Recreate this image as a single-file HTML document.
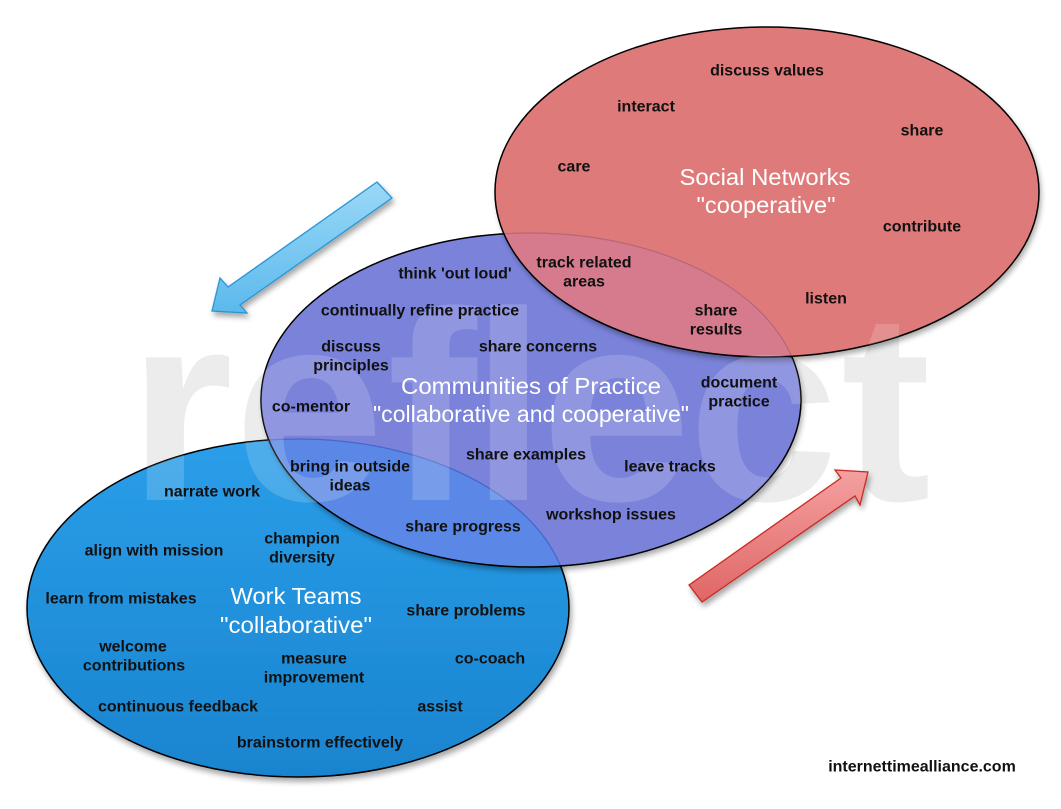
<!DOCTYPE html>
<html><head><meta charset="utf-8"><style>
html,body{margin:0;padding:0;background:#fff;}
svg{display:block;}
.l{font-family:"Liberation Sans",Arial,sans-serif;font-weight:bold;font-size:16px;fill:#111;text-anchor:middle;}
.t{font-family:"Liberation Sans",Arial,sans-serif;font-weight:normal;font-size:23.5px;fill:#fff;text-anchor:middle;}
.w{font-family:"Liberation Sans",Arial,sans-serif;font-weight:bold;font-size:270px;}
</style></head><body>
<svg width="1061" height="809" viewBox="0 0 1061 809" xmlns="http://www.w3.org/2000/svg">
<defs>
  <filter id="sh" x="-10%" y="-10%" width="125%" height="130%">
    <feGaussianBlur in="SourceAlpha" stdDeviation="3"/>
    <feOffset dx="2" dy="4" result="o"/>
    <feComponentTransfer><feFuncA type="linear" slope="0.35"/></feComponentTransfer>
    <feMerge><feMergeNode/><feMergeNode in="SourceGraphic"/></feMerge>
  </filter>
  <linearGradient id="wtg" x1="0" y1="0" x2="0" y2="1">
    <stop offset="0" stop-color="#2b9ee9"/>
    <stop offset="1" stop-color="#1984cf"/>
  </linearGradient>
  <linearGradient id="bag" x1="0" y1="0" x2="0" y2="1">
    <stop offset="0" stop-color="#9ad8f7"/>
    <stop offset="1" stop-color="#5cb9ec"/>
  </linearGradient>
  <linearGradient id="rag" x1="0" y1="0" x2="0" y2="1">
    <stop offset="0" stop-color="#f4a0a0"/>
    <stop offset="1" stop-color="#e06666"/>
  </linearGradient>
  <clipPath id="cCop"><ellipse cx="531" cy="400" rx="270" ry="167"/></clipPath>
  <clipPath id="cWt"><ellipse cx="298" cy="608" rx="271" ry="169"/></clipPath>
  <clipPath id="cSn"><ellipse cx="767" cy="192" rx="272" ry="165"/></clipPath>
  <clipPath id="cAll">
    <ellipse cx="531" cy="400" rx="270" ry="167"/>
    <ellipse cx="298" cy="608" rx="271" ry="169"/>
    <ellipse cx="767" cy="192" rx="272" ry="165"/>
  </clipPath>
</defs>

<rect width="1061" height="809" fill="#fff"/>

<!-- watermark (background) -->
<g class="w" fill="#ececec">
  <text x="128" y="500">r</text>
  <text x="234" y="500">e</text>
  <text x="387" y="500">f</text>
  <text x="471" y="500">l</text>
  <text x="541" y="500">e</text>
  <text x="688" y="500">c</text>
  <text x="841" y="500">t</text>
</g>

<!-- arrows -->
<polygon filter="url(#sh)" points="377,182 392,198 240,305 247,313 212,311 220,278 228,287" fill="url(#bag)" stroke="#2596d6" stroke-width="1.3" stroke-linejoin="miter"/>
<polygon filter="url(#sh)" points="689,585 841,478 835,470 868,472 860,505 855,496 702,602" fill="url(#rag)" stroke="#c92a22" stroke-width="1.3" stroke-linejoin="miter"/>

<!-- Work Teams -->
<ellipse filter="url(#sh)" cx="298" cy="608" rx="271" ry="169" fill="url(#wtg)" stroke="#000" stroke-width="1.5"/>

<!-- Communities of Practice -->
<ellipse filter="url(#sh)" cx="531" cy="400" rx="270" ry="167" fill="#7a82da"/>
<g clip-path="url(#cWt)">
  <ellipse cx="531" cy="400" rx="270" ry="167" fill="#5b88e6"/>
</g>
<g clip-path="url(#cCop)">
  <ellipse cx="298" cy="608" rx="271" ry="169" fill="none" stroke="#3f5fc4" stroke-width="1.3" opacity="0.8"/>
</g>
<ellipse cx="531" cy="400" rx="270" ry="167" fill="none" stroke="#000" stroke-width="1.5"/>

<!-- Social Networks -->
<ellipse filter="url(#sh)" cx="767" cy="192" rx="272" ry="165" fill="#df7a7a"/>
<g clip-path="url(#cCop)">
  <ellipse cx="767" cy="192" rx="272" ry="165" fill="#d67a8d"/>
</g>
<g clip-path="url(#cSn)">
  <ellipse cx="531" cy="400" rx="270" ry="167" fill="none" stroke="#b56878" stroke-width="1.2"/>
</g>
<ellipse cx="767" cy="192" rx="272" ry="165" fill="none" stroke="#000" stroke-width="1.5"/>

<!-- watermark overlay on ellipses -->
<g class="w" fill="#ffffff" opacity="0.17" clip-path="url(#cAll)">
  <text x="128" y="500">r</text>
  <text x="234" y="500">e</text>
  <text x="387" y="500">f</text>
  <text x="471" y="500">l</text>
  <text x="541" y="500">e</text>
  <text x="688" y="500">c</text>
  <text x="841" y="500">t</text>
</g>

<!-- titles -->
<text class="t" x="765" y="185" textLength="171" lengthAdjust="spacingAndGlyphs">Social Networks</text>
<text class="t" x="766" y="213" textLength="139" lengthAdjust="spacingAndGlyphs">"cooperative"</text>
<text class="t" x="531" y="394" textLength="260" lengthAdjust="spacingAndGlyphs">Communities of Practice</text>
<text class="t" x="531" y="422" textLength="316" lengthAdjust="spacingAndGlyphs">"collaborative and cooperative"</text>
<text class="t" x="296" y="604" textLength="131" lengthAdjust="spacingAndGlyphs">Work Teams</text>
<text class="t" x="296" y="633" textLength="152" lengthAdjust="spacingAndGlyphs">"collaborative"</text>

<!-- Social Networks labels -->
<text class="l" x="767" y="75.5">discuss values</text>
<text class="l" x="646" y="111.5">interact</text>
<text class="l" x="922" y="135.5">share</text>
<text class="l" x="574" y="171.5">care</text>
<text class="l" x="922" y="231.5">contribute</text>
<text class="l" x="584" y="267.5">track related</text>
<text class="l" x="584" y="286.5">areas</text>
<text class="l" x="826" y="303.5">listen</text>
<text class="l" x="716" y="315.5">share</text>
<text class="l" x="716" y="334.5">results</text>

<!-- CoP labels -->
<text class="l" x="455" y="278.5">think 'out loud'</text>
<text class="l" x="420" y="315.5">continually refine practice</text>
<text class="l" x="351" y="351.5">discuss</text>
<text class="l" x="351" y="370.5">principles</text>
<text class="l" x="538" y="351.5">share concerns</text>
<text class="l" x="739" y="387.5">document</text>
<text class="l" x="739" y="406.5">practice</text>
<text class="l" x="311" y="411.5">co-mentor</text>
<text class="l" x="526" y="459.5">share examples</text>
<text class="l" x="350" y="471.5">bring in outside</text>
<text class="l" x="350" y="490.5">ideas</text>
<text class="l" x="670" y="471.5">leave tracks</text>
<text class="l" x="611" y="519.5">workshop issues</text>
<text class="l" x="463" y="531.5">share progress</text>

<!-- Work Teams labels -->
<text class="l" x="212" y="496.5">narrate work</text>
<text class="l" x="302" y="543.5">champion</text>
<text class="l" x="302" y="562.5">diversity</text>
<text class="l" x="154" y="555.5">align with mission</text>
<text class="l" x="121" y="603.5">learn from mistakes</text>
<text class="l" x="466" y="615.5">share problems</text>
<text class="l" x="133" y="651.5">welcome</text>
<text class="l" x="134" y="670.5">contributions</text>
<text class="l" x="314" y="663.5">measure</text>
<text class="l" x="314" y="682.5">improvement</text>
<text class="l" x="490" y="663.5">co-coach</text>
<text class="l" x="178" y="711.5">continuous feedback</text>
<text class="l" x="440" y="711.5">assist</text>
<text class="l" x="320" y="747.5">brainstorm effectively</text>

<text class="l" x="922" y="771.5">internettimealliance.com</text>
</svg>
</body></html>
